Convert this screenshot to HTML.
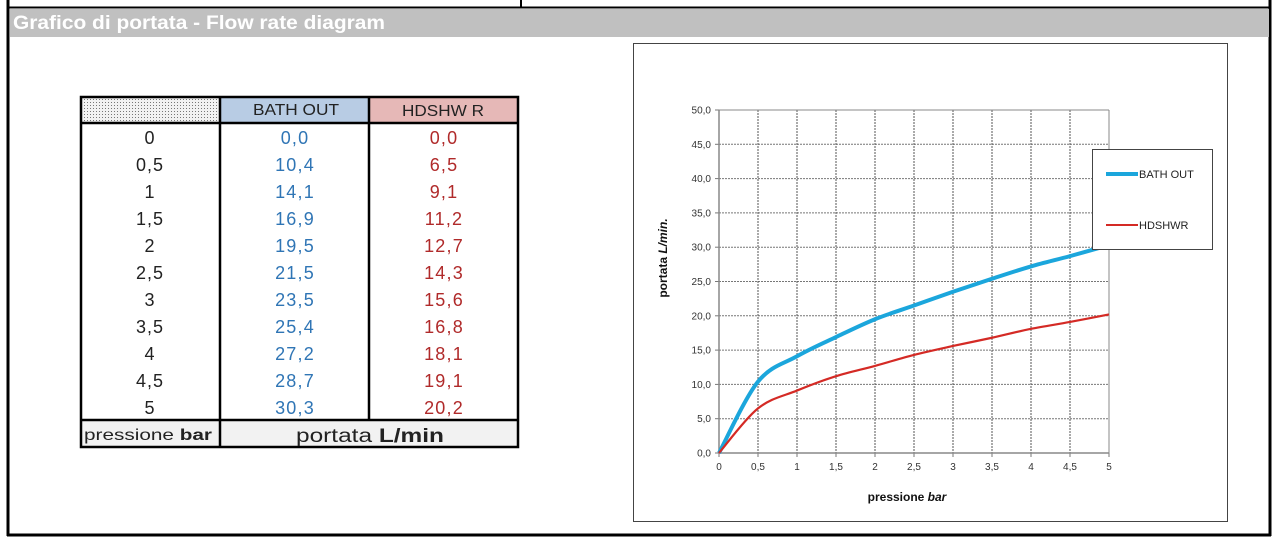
<!DOCTYPE html>
<html><head><meta charset="utf-8"><style>
body{margin:0;background:#fff;width:1279px;height:546px;overflow:hidden;font-family:"Liberation Sans",sans-serif}
</style></head><body>
<svg id="s" width="1279" height="546" xmlns="http://www.w3.org/2000/svg" font-family="Liberation Sans, sans-serif">
<rect x="0" y="0" width="1279" height="546" fill="#fff"/>
<line x1="8" y1="0" x2="8" y2="536" stroke="#000" stroke-width="3"/>
<line x1="1270" y1="0" x2="1270" y2="536" stroke="#000" stroke-width="3"/>
<line x1="7" y1="535" x2="1271" y2="535" stroke="#000" stroke-width="3"/>
<line x1="7" y1="7.5" x2="1271" y2="7.5" stroke="#000" stroke-width="2"/>
<line x1="521" y1="0" x2="521" y2="8" stroke="#000" stroke-width="2"/>
<rect x="10" y="9" width="1259" height="28" fill="#c0c0c0"/>
<text x="13" y="29" fill="#fff" font-size="19" font-weight="bold" textLength="372" lengthAdjust="spacingAndGlyphs">Grafico di portata - Flow rate diagram</text>
<defs><pattern id="dots" width="3" height="3" patternUnits="userSpaceOnUse"><rect width="3" height="3" fill="#f2f2f2"/><rect width="1" height="1" fill="#777"/></pattern></defs>
<rect x="81" y="98" width="139" height="25" fill="url(#dots)"/>
<rect x="220" y="98" width="149" height="25" fill="#b8cce4"/>
<rect x="369" y="98" width="149" height="25" fill="#e6b8b7"/>
<rect x="81" y="420" width="437" height="27" fill="#f2f2f2"/>
<g id="tbl"></g>
<rect x="81" y="97" width="437" height="350" fill="none" stroke="#000" stroke-width="2.5"/>
<line x1="81" y1="123" x2="518" y2="123" stroke="#000" stroke-width="2.5"/>
<line x1="81" y1="420" x2="518" y2="420" stroke="#000" stroke-width="2.5"/>
<line x1="220" y1="97" x2="220" y2="447" stroke="#000" stroke-width="2.5"/>
<line x1="369" y1="97" x2="369" y2="420" stroke="#000" stroke-width="2.5"/>
<text x="296" y="115" font-size="16" text-anchor="middle" fill="#222" textLength="86" lengthAdjust="spacingAndGlyphs">BATH OUT</text>
<text x="443" y="116" font-size="16" text-anchor="middle" fill="#222" textLength="82" lengthAdjust="spacingAndGlyphs">HDSHW R</text>
<text x="84" y="440" font-size="16" fill="#222" textLength="128" lengthAdjust="spacingAndGlyphs">pressione  <tspan font-weight="bold">bar</tspan></text>
<text x="370" y="442" font-size="19" text-anchor="middle" fill="#222" textLength="148" lengthAdjust="spacingAndGlyphs">portata <tspan font-weight="bold">L/min</tspan></text>
<rect x="633.5" y="43.5" width="594" height="478" fill="#fff" stroke="#444" stroke-width="1"/>
<g id="grid"></g>
<path id="pb" fill="none" stroke="#1ba6dc" stroke-width="4" stroke-linejoin="round"/>
<path id="pr" fill="none" stroke="#d42a25" stroke-width="2.2" stroke-linejoin="round"/>
<rect x="1092.5" y="149.5" width="120" height="100" fill="#fff" stroke="#444"/>
<line x1="1106" y1="174" x2="1138" y2="174" stroke="#1ba6dc" stroke-width="4"/>
<text x="1139" y="178" font-size="11" fill="#222">BATH OUT</text>
<line x1="1106" y1="225" x2="1138" y2="225" stroke="#d42a25" stroke-width="2"/>
<text x="1139" y="229" font-size="11" fill="#222">HDSHWR</text>
<text x="907" y="501" font-size="12" font-weight="bold" text-anchor="middle" fill="#111">pressione  <tspan font-style="italic">bar</tspan></text>
<text transform="translate(667,258) rotate(-90)" font-size="12" font-weight="bold" text-anchor="middle" fill="#111">portata  <tspan font-style="italic">L/min.</tspan></text>
</svg>
<script>
var ns="http://www.w3.org/2000/svg";
function el(p,t,a,txt){var e=document.createElementNS(ns,t);for(var k in a)e.setAttribute(k,a[k]);if(txt!=null)e.textContent=txt;p.appendChild(e);return e;}
var tbl=document.getElementById('tbl');
var P=["0","0,5","1","1,5","2","2,5","3","3,5","4","4,5","5"];
var B=[0,10.4,14.1,16.9,19.5,21.5,23.5,25.4,27.2,28.7,30.3];
var R=[0,6.5,9.1,11.2,12.7,14.3,15.6,16.8,18.1,19.1,20.2];
function f(v){return v.toFixed(1).replace('.',',');}
for(var i=0;i<11;i++){var y=144+i*27;
el(tbl,'text',{x:150,y:y,'font-size':18,'text-anchor':'middle',fill:'#222','letter-spacing':1},P[i]);
el(tbl,'text',{x:295,y:y,'font-size':18,'text-anchor':'middle',fill:'#2f75b5','letter-spacing':1.2},f(B[i]));
el(tbl,'text',{x:444,y:y,'font-size':18,'text-anchor':'middle',fill:'#b02a2a','letter-spacing':1.2},f(R[i]));}
var g=document.getElementById('grid');
var x0=719,x1=1109,y0=453,y1=110;
function X(v){return x0+(x1-x0)*v/5;} function Y(v){return y0-(y0-y1)*v/50;}
for(var i=0;i<=10;i++){var y=Y(i*5);
if(i>0)el(g,'line',{x1:x0,y1:y,x2:x1,y2:y,stroke:'#777','stroke-width':1,'stroke-dasharray':'2,1'});
el(g,'line',{x1:x0-4,y1:y,x2:x0,y2:y,stroke:'#777'});
el(g,'text',{x:x0-8,y:y+3.5,'font-size':10,'text-anchor':'end',fill:'#333'},f(i*5));}
for(var i=0;i<=10;i++){var x=X(i*0.5);
if(i>0)el(g,'line',{x1:x,y1:y1,x2:x,y2:y0,stroke:'#555','stroke-width':1,'stroke-dasharray':'2,1'});
el(g,'line',{x1:x,y1:y0,x2:x,y2:y0+4,stroke:'#777'});
el(g,'text',{x:x,y:y0+17,'font-size':10,'text-anchor':'middle',fill:'#333'},P[i]);}
el(g,'line',{x1:x0,y1:y1,x2:x0,y2:y0,stroke:'#888','stroke-width':1.5});
el(g,'line',{x1:x0,y1:y0,x2:x1,y2:y0,stroke:'#888','stroke-width':1.5});
el(g,'line',{x1:x0,y1:y1,x2:x1,y2:y1,stroke:'#888','stroke-width':1});
el(g,'line',{x1:x1,y1:y1,x2:x1,y2:y0,stroke:'#888','stroke-width':1});
function path(D){var pts=D.map(function(v,i){return[X(i*0.5),Y(v)];});var d='M'+pts[0][0]+','+pts[0][1];
for(var i=0;i<pts.length-1;i++){var p0=pts[Math.max(0,i-1)],p1=pts[i],p2=pts[i+1],p3=pts[Math.min(pts.length-1,i+2)];
var c1=[p1[0]+(p2[0]-p0[0])/6,p1[1]+(p2[1]-p0[1])/6],c2=[p2[0]-(p3[0]-p1[0])/6,p2[1]-(p3[1]-p1[1])/6];
d+=' C'+c1.join(',')+' '+c2.join(',')+' '+p2.join(',');}return d;}
document.getElementById('pb').setAttribute('d',path(B));
document.getElementById('pr').setAttribute('d',path(R));
</script>
</body></html>
